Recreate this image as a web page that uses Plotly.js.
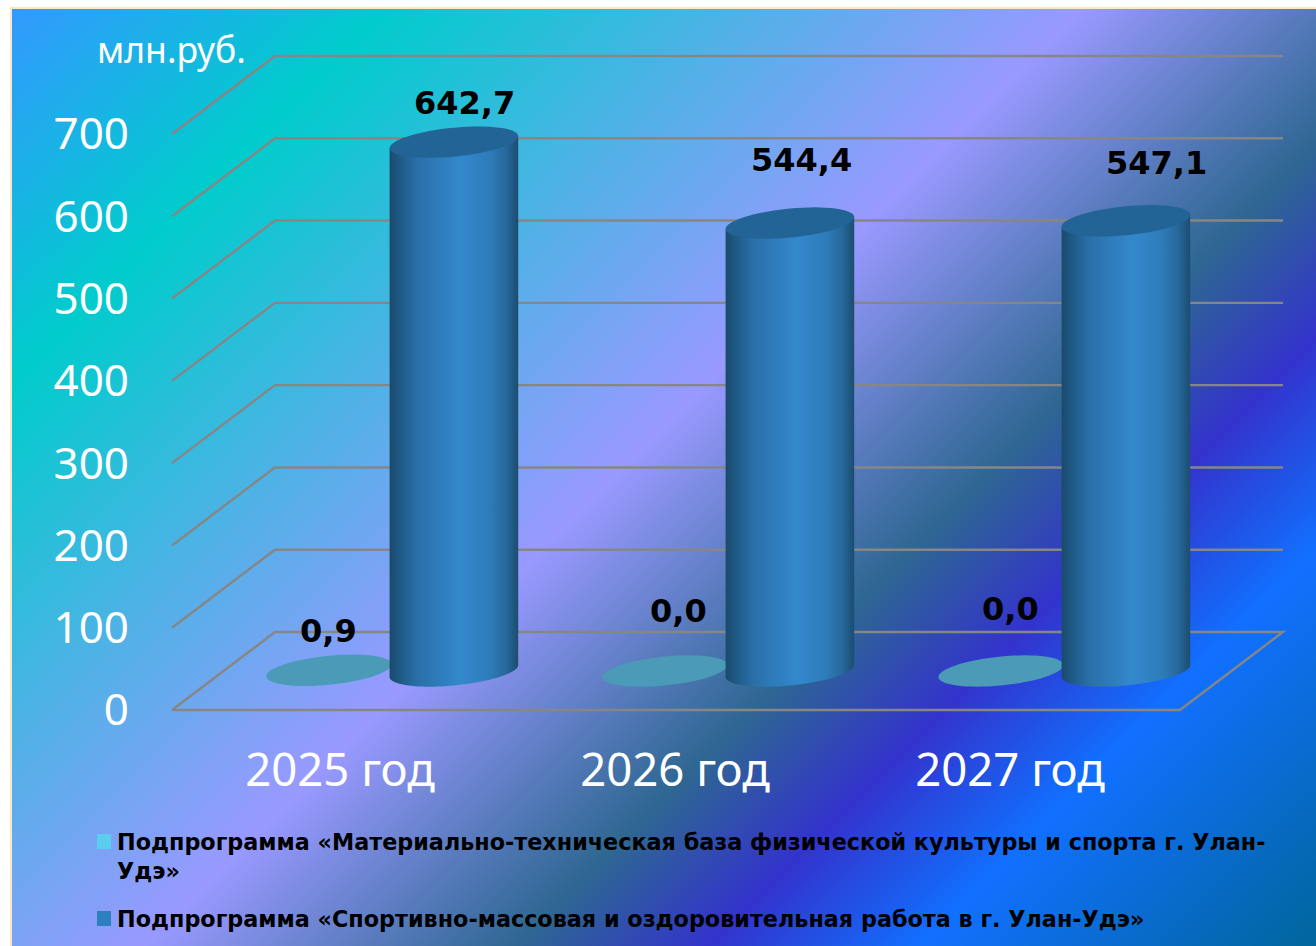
<!DOCTYPE html>
<html><head><meta charset="utf-8">
<script src="https://cdn.plot.ly/plotly-3.0.1.min.js"></script>
<style>
html,body{margin:0;padding:0;width:1316px;height:946px;overflow:hidden;background:#fff}
#bg{position:absolute;left:10px;top:7px;width:1310px;height:945px;box-sizing:border-box;border:2px solid #fbe6c6;border-right:0;border-bottom:0;
background:linear-gradient(135deg,#3399ff 0%,#00cccc 16.5%,#9999ff 47.5%,#2e6792 64%,#3333cc 72.5%,#1170ff 82%,#006699 100%)}
#chart{position:absolute;left:0;top:0;width:1316px;height:946px}
</style></head><body>
<div id="bg"></div><div id="chart"></div>
<script>
const categories = ['2025 год','2026 год','2027 год'];
const seriesA = [0.9, 0, 0];
const seriesB = [642.7, 544.4, 547.1];
const labelsA = ['0,9','0,0','0,0'];
const labelsB = ['642,7','544,4','547,1'];
const nameA = 'Подпрограмма «Материально-техническая база физической культуры и спорта г. Улан-<br>Удэ»';
const nameB = 'Подпрограмма «Спортивно-массовая и оздоровительная работа в г. Улан-Удэ»';
const yTicks = [0,100,200,300,400,500,600,700];
const unit = 'млн.руб.';

// scale: front plane x starts at 172px, value 0 at 710px
const PX_Y = 576/700, PX_X = 336, X0=172, Y0=710;
// plot frame, slightly larger than the drawn floor/walls so lines are not clipped
const L=166,R=1290,T=48,B=718;
const xEnd=(1283-X0)/PX_X;
const depthX=103/PX_X, depthY=78/PX_Y;
const baseY=39/PX_Y;
const offA=-0.033, offB=0.339;
const halfA=62.5/PX_X, halfB=64.3/PX_X;
const shear=6/PX_Y, minor=14.5/PX_Y;
const FONT='"Noto Sans",sans-serif', BOLD='"DejaVu Sans",sans-serif';

function ell(cx,cy,a,from,to,n){ // sheared ellipse points
  const p=[];
  for(let i=0;i<=n;i++){const t=from+(to-from)*i/n;
    p.push([cx+a*Math.cos(t), cy+shear*Math.cos(t)+minor*Math.sin(t)]);}
  return p;
}
const toPath=(pts,close)=>'M'+pts.map(q=>q[0].toFixed(4)+' '+q[1].toFixed(3)).join('L')+(close?'Z':'');

const shapes=[];
const GRID={color:'#868686',width:2.4};
yTicks.forEach(v=>{
  const pts=[[0,v],[depthX,v+depthY],[xEnd,v+depthY]];
  if(v===0){pts.push([xEnd-depthX,v]);pts.push([0,v]);}
  shapes.push({type:'path',xref:'x',yref:'y',layer:'below',line:GRID,path:toPath(pts,false)});
});
// flat series A discs, behind the bars
categories.forEach((c,i)=>{
  shapes.push({type:'path',xref:'x',yref:'y',layer:'below',fillcolor:'#4a9ab8',line:{width:0},
    path:toPath(ell(i+0.5+offA,baseY+seriesA[i],halfA,0,2*Math.PI,64),true)});
});
// cylinders of series B
const bodyIdx=[];
categories.forEach((c,i)=>{
  const cx=i+0.5+offB, topY=baseY+seriesB[i];
  const top=[[cx-halfB,topY-shear],[cx+halfB,topY+shear]];
  const low=ell(cx,baseY,halfB,0,-Math.PI,48);
  bodyIdx.push(shapes.length);
  shapes.push({type:'path',xref:'x',yref:'y',layer:'above',fillcolor:'#2e7fbf',line:{width:0},
    path:toPath(top.concat(low),true)});
  shapes.push({type:'path',xref:'x',yref:'y',layer:'above',fillcolor:'#236497',line:{width:0},
    path:toPath(ell(cx,topY,halfB,0,2*Math.PI,64),true)});
});

const data=[
 {type:'bar',name:'A',x:categories.map((c,i)=>i+0.5+offA),y:seriesA,base:baseY,width:1.3*halfA,marker:{color:'#4a9ab8'},hoverinfo:'skip',showlegend:false},
 {type:'bar',name:'B',x:categories.map((c,i)=>i+0.5+offB),y:seriesB,base:baseY,width:1.3*halfB,marker:{color:'#2e7fbf'},hoverinfo:'skip',showlegend:false}
];

const white=s=>({family:FONT,size:s,color:'#fff'});
const black=s=>({family:BOLD,size:s,color:'#000',weight:700});
const ann=[];
// value labels, each with its hand-placed pixel offset from the mark
const shiftA=[[0,39],[14,60],[10,62]], shiftB=[[11,39],[12,63],[31,58]];
categories.forEach((c,i)=>{
  ann.push({x:i+0.5+offA,y:baseY+seriesA[i],text:labelsA[i],showarrow:false,xanchor:'center',yanchor:'middle',xshift:shiftA[i][0],yshift:shiftA[i][1],font:black(32)});
  ann.push({x:i+0.5+offB,y:baseY+seriesB[i],text:labelsB[i],showarrow:false,xanchor:'center',yanchor:'middle',xshift:shiftB[i][0],yshift:shiftB[i][1],font:black(32)});
});
const W=1316,H=946;
const paperX=x=>(x-L)/(R-L), paperY=y=>(B-y)/(B-T);
ann.push({xref:'paper',yref:'paper',x:paperX(171),y:paperY(49),text:unit,showarrow:false,xanchor:'center',yanchor:'middle',font:white(35.5)});
const LEG=22.3;
ann.push({xref:'paper',yref:'paper',x:paperX(115),y:paperY(856),text:nameA,showarrow:false,xanchor:'left',yanchor:'middle',align:'left',font:black(LEG)});
ann.push({xref:'paper',yref:'paper',x:paperX(115),y:paperY(919),text:nameB,showarrow:false,xanchor:'left',yanchor:'middle',align:'left',font:black(LEG)});
// legend swatches
[[834,'#5bcdef'],[911,'#2e7fbf']].forEach(s=>{
  shapes.push({type:'rect',xref:'paper',yref:'paper',x0:paperX(97),x1:paperX(111),y0:paperY(s[0]),y1:paperY(s[0]+15),fillcolor:s[1],line:{width:0},layer:'above'});
});

const layout={
  width:W,height:H,autosize:false,showlegend:false,
  paper_bgcolor:'rgba(0,0,0,0)',plot_bgcolor:'rgba(0,0,0,0)',
  margin:{l:L,r:W-R,t:T,b:H-B,pad:0},
  barmode:'overlay',
  xaxis:{range:[(L-X0)/PX_X,(R-X0)/PX_X],tickmode:'array',tickvals:categories.map((c,i)=>i*335/336+0.5),ticktext:categories,
    showgrid:false,zeroline:false,showline:false,ticks:'',ticklabelstandoff:21,tickfont:white(45.5),fixedrange:true},
  yaxis:{range:[(Y0-B)/PX_Y,(Y0-T)/PX_Y],tickmode:'array',tickvals:yTicks,ticktext:yTicks.map(String),
    showgrid:false,zeroline:false,showline:false,ticks:'',ticklabelstandoff:36,tickfont:white(44),fixedrange:true},
  shapes:shapes,annotations:ann
};
Plotly.newPlot('chart',data,layout,{displayModeBar:false,staticPlot:true}).then(gd=>{
  const svg=gd.querySelector('svg.main-svg');
  const NS='http://www.w3.org/2000/svg';
  let defs=svg.querySelector('defs');
  const g=document.createElementNS(NS,'linearGradient');
  g.setAttribute('id','cyl');g.setAttribute('x1','0');g.setAttribute('x2','1');g.setAttribute('y1','0');g.setAttribute('y2','0');
  [[0,'#1b4a6c'],[0.08,'#1f5a86'],[0.22,'#2a70a9'],[0.55,'#3388cc'],[0.78,'#2d7cba'],[0.9,'#27699c'],[1,'#1c4d70']].forEach(s=>{
    const st=document.createElementNS(NS,'stop');st.setAttribute('offset',s[0]);st.setAttribute('stop-color',s[1]);g.appendChild(st);
  });
  defs.appendChild(g);
  bodyIdx.forEach(i=>{
    gd.querySelectorAll('.shapelayer path[data-index="'+i+'"]').forEach(p=>{p.style.fill='url(#cyl)';});
  });
});
</script></body></html>
